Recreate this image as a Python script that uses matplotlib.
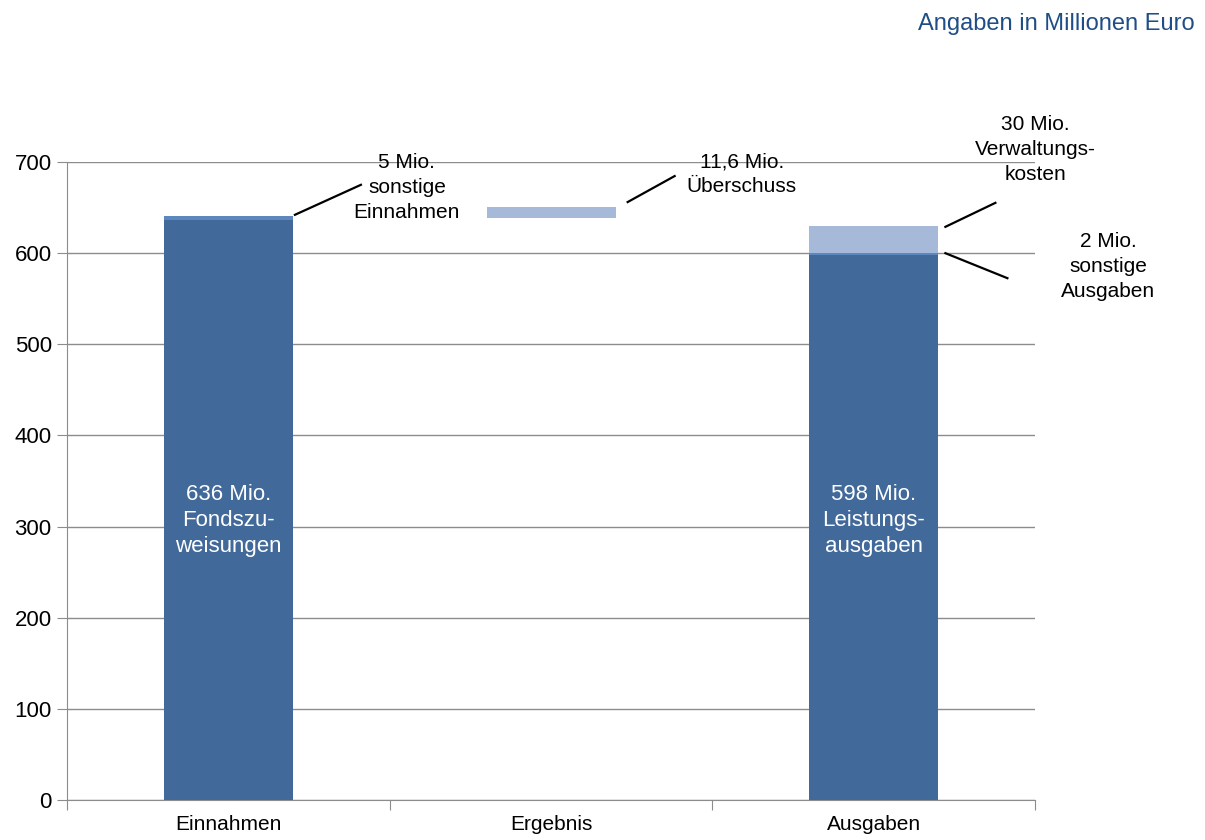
import matplotlib.pyplot as plt

plt.rcParams['font.family'] = ['Liberation Sans', 'DejaVu Sans']

categories = ['Einnahmen', 'Ergebnis', 'Ausgaben']
fonds = 636          # Fondszuweisungen
sonst_ein = 5        # sonstige Einnahmen
ueberschuss = 11.6   # Überschuss
ueberschuss_base = 639
leistung = 598       # Leistungsausgaben
sonst_aus = 2        # sonstige Ausgaben
verwaltung = 30      # Verwaltungskosten
yticks = [0, 100, 200, 300, 400, 500, 600, 700]

dark = '#41699a'
mid = '#5d87bf'
light = '#a7b9d9'
line_c = '#8c8c8c'


def main():
    fig = plt.figure(figsize=(12.05, 8.4), dpi=100)
    ax = fig.add_axes([0.0556, 0.0476, 0.8035, 0.7595])
    w = 0.4
    x = list(range(len(categories)))

    # Einnahmen
    ax.bar(x[0], fonds, w, color=dark, zorder=3)
    ax.bar(x[0], sonst_ein, w, bottom=fonds, color=mid, zorder=3)
    # Ergebnis (schwebender Balken)
    ax.bar(x[1], ueberschuss, w, bottom=ueberschuss_base, color=light, zorder=3)
    # Ausgaben
    ax.bar(x[2], leistung, w, color=dark, zorder=3)
    ax.bar(x[2], sonst_aus, w, bottom=leistung, color=mid, zorder=3)
    ax.bar(x[2], verwaltung, w, bottom=leistung + sonst_aus, color=light, zorder=3)

    ax.set_xlim(-0.5, 2.5)
    ax.set_ylim(0, 700)
    ax.set_yticks(yticks)
    ax.set_xticks([-0.5, 0.5, 1.5, 2.5])
    ax.set_xticklabels([])
    ax.set_xticks(x, minor=True)
    ax.set_xticklabels(categories, minor=True)
    ax.tick_params(axis='x', which='minor', length=0, pad=11, labelsize=15)
    ax.tick_params(axis='x', which='major', length=7, color=line_c)
    ax.tick_params(axis='y', length=7, color=line_c, pad=4, labelsize=16)
    ax.yaxis.grid(True, color=line_c, lw=1, zorder=0)
    for s in ['top', 'right']:
        ax.spines[s].set_visible(False)
    for s in ['left', 'bottom']:
        ax.spines[s].set_color(line_c)

    fs = 15
    # Beschriftung in den dunklen Balken
    ax.text(x[0], 307, f'{fonds} Mio.\nFondszu-\nweisungen', color='white',
            ha='center', va='center', fontsize=16, linespacing=1.3, zorder=4)
    ax.text(x[2], 307, f'{leistung} Mio.\nLeistungs-\nausgaben', color='white',
            ha='center', va='center', fontsize=16, linespacing=1.3, zorder=4)

    def callout(anchor, p0, p1, text_off, label):
        # Linie und Text relativ zur Balkenecke (in Pixeln)
        px, py = ax.transData.transform(anchor)
        inv = fig.transFigure.inverted()
        a = inv.transform((px + p0[0], py + p0[1]))
        b = inv.transform((px + p1[0], py + p1[1]))
        fig.add_artist(plt.Line2D([a[0], b[0]], [a[1], b[1]], color='black', lw=1.6))
        ax.annotate(label, xy=anchor, xycoords='data', xytext=text_off,
                    textcoords='offset pixels', ha='center', va='center',
                    fontsize=fs, linespacing=1.4, annotation_clip=False)

    callout((x[0] + w / 2, fonds + sonst_ein), (2, 1), (68, 31), (114, 28),
            f'{sonst_ein} Mio.\nsonstige\nEinnahmen')
    callout((x[1] + w / 2, ueberschuss_base + ueberschuss), (12, 5), (59, 31), (126, 33),
            '11,6 Mio.\nÜberschuss')
    callout((x[2] + w / 2, leistung + sonst_aus + verwaltung), (7, -1), (57, 23), (97, 76),
            f'{verwaltung} Mio.\nVerwaltungs-\nkosten')
    callout((x[2] + w / 2, leistung + sonst_aus), (7, 0), (69, -25), (170, -13),
            f'{sonst_aus} Mio.\nsonstige\nAusgaben')

    fig.text(0.9917, 0.972, 'Angaben in Millionen Euro', color='#1f4e86',
             ha='right', va='center', fontsize=17)

    fig.savefig('out.png', dpi=100)


if __name__ == '__main__':
    main()
